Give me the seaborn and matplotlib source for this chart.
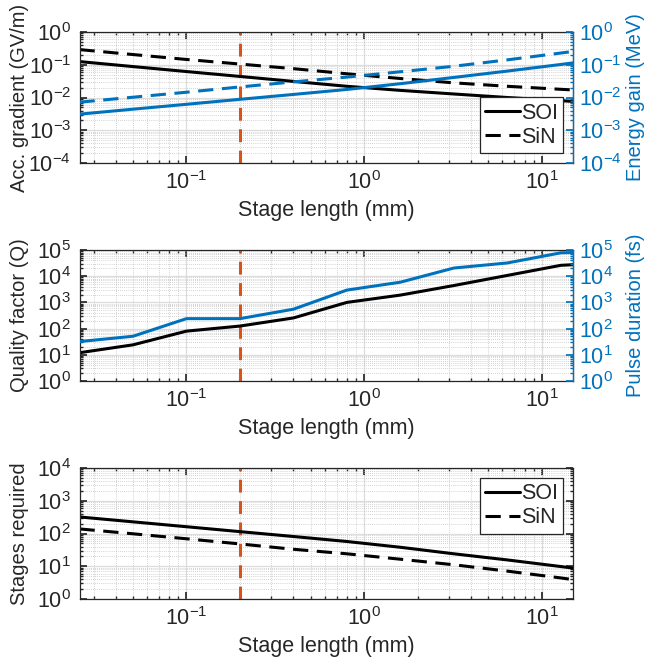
import numpy as np
import matplotlib
matplotlib.use("Agg")
import matplotlib.pyplot as plt
from matplotlib.lines import Line2D
from matplotlib.ticker import LogLocator, NullFormatter
import seaborn as sns

# stage length (mm)
length = [0.025, 0.05, 0.1, 0.2, 0.4, 0.8, 1.6, 3.2, 6.4, 12.8, 15]

# top panel: acc. gradient (GV/m) and energy gain (MeV)
grad_soi = [0.125, 0.088, 0.062, 0.044, 0.031, 0.022, 0.0165, 0.0128, 0.0100, 0.0080, 0.0076]
grad_sin = [0.29, 0.205, 0.145, 0.105, 0.076, 0.053, 0.038, 0.028, 0.022, 0.0178, 0.017]
energy_soi = [0.0031, 0.0044, 0.0062, 0.0088, 0.0124, 0.0176, 0.0264, 0.041, 0.064, 0.102, 0.114]
energy_sin = [0.0072, 0.0102, 0.0145, 0.021, 0.030, 0.042, 0.061, 0.090, 0.141, 0.228, 0.255]

# middle panel: quality factor and pulse duration (fs)
q_factor = [12, 24, 80, 125, 255, 1000, 1900, 4400, 10700, 26000, 27500]
pulse_fs = [32, 51, 240, 240, 550, 2950, 5900, 20500, 32000, 78000, 80000]

# bottom panel: stages required
stages_soi = [320, 227, 161, 114, 81, 57, 38, 24, 15.6, 9.8, 8.8]
stages_sin = [138, 98, 69, 48, 33, 24, 16.4, 11.1, 7.1, 4.4, 3.9]

design_length = 0.2

BLUE = "#0072BD"
ORANGE = "#D95319"
DARK = "#262626"
FS = 15.5
FS_Y = 14.5
LW = 2.2

sns.set_theme(style="ticks")
plt.rcParams["font.family"] = ["Liberation Sans", "DejaVu Sans"]
plt.rcParams["mathtext.fontset"] = "custom"
plt.rcParams["mathtext.rm"] = "Liberation Sans"
plt.rcParams["mathtext.it"] = "Liberation Sans:italic"
plt.rcParams["mathtext.bf"] = "Liberation Sans:bold"
plt.rcParams["axes.unicode_minus"] = True

fig = plt.figure(figsize=(6.47, 6.70), dpi=100)
W, H = 647.0, 670.0
left, right = 79.5, 573.0
panels_px = [(32, 163), (250, 381), (468, 599)]
axes = [fig.add_axes([left / W, 1 - b / H, (right - left) / W, (b - t) / H]) for t, b in panels_px]

DASH = (5.0, 2.8)
LEFT_LABEL_X = (29 - left) / (right - left)
RIGHT_LABEL_X = (626 - left) / (right - left)


def draw(ax, y, color, dashed=False):
    sns.lineplot(x=length, y=y, ax=ax, color=color, lw=LW, legend=False)
    ln = ax.lines[-1]
    if dashed:
        ln.set_dashes(DASH)
    return ln


def style_axis(ax, ylim, twin=None):
    ax.set_xscale("log")
    ax.set_yscale("log")
    ax.set_xlim(0.025, 15)
    ax.set_ylim(*ylim)
    ax.yaxis.set_major_locator(LogLocator(base=10, numticks=20))
    ax.yaxis.set_minor_locator(LogLocator(base=10, subs=np.arange(2, 10), numticks=50))
    ax.yaxis.set_minor_formatter(NullFormatter())
    ax.xaxis.set_minor_locator(LogLocator(base=10, subs=np.arange(2, 10), numticks=50))
    ax.xaxis.set_minor_formatter(NullFormatter())
    ax.grid(which="major", color="#dcdcdc", lw=0.9, ls="-")
    ax.grid(which="minor", color="#c4c4c4", lw=0.6, ls=(0, (1, 1.5)))
    ax.set_axisbelow(True)
    ax.tick_params(which="both", direction="in", top=True, right=(twin is None),
                   colors=DARK, labelsize=FS, pad=6)
    ax.tick_params(which="major", length=5)
    ax.tick_params(which="minor", length=2.5)
    for s in ax.spines.values():
        s.set_color(DARK)
        s.set_linewidth(0.9)
    ax.set_xlabel("Stage length (mm)", fontsize=FS, color=DARK, labelpad=4)


def style_twin(ax2, ylim):
    ax2.set_yscale("log")
    ax2.set_ylim(*ylim)
    ax2.yaxis.set_major_locator(LogLocator(base=10, numticks=20))
    ax2.yaxis.set_minor_locator(LogLocator(base=10, subs=np.arange(2, 10), numticks=50))
    ax2.yaxis.set_minor_formatter(NullFormatter())
    ax2.tick_params(which="both", direction="in", colors=BLUE, labelsize=FS, pad=4)
    ax2.tick_params(which="major", length=5)
    ax2.tick_params(which="minor", length=2.5)
    for name, s in ax2.spines.items():
        s.set_visible(name == "right")
    ax2.spines["right"].set_color(BLUE)
    ax2.spines["right"].set_linewidth(0.9)
    ax2.grid(False)


def add_legend(ax, loc):
    handles = [Line2D([], [], color="black", lw=LW),
               Line2D([], [], color="black", lw=LW, dashes=DASH)]
    leg = ax.legend(handles, ["SOI", "SiN"], loc=loc, fontsize=FS, frameon=True,
                    fancybox=False, edgecolor=DARK, handlelength=1.6, handletextpad=0.05,
                    borderpad=0.25, labelspacing=0.15, borderaxespad=0.45, framealpha=1)
    leg.get_frame().set_linewidth(0.9)
    return leg


# --- top panel ---
ax = axes[0]
style_axis(ax, (1e-4, 1), twin=True)
ax.axvline(design_length, color=ORANGE, lw=LW, dashes=(4.2, 2.8))
draw(ax, grad_soi, "black")
draw(ax, grad_sin, "black", dashed=True)
ax.set_ylabel("Acc. gradient (GV/m)", fontsize=FS_Y, color=DARK)
ax.yaxis.set_label_coords(LEFT_LABEL_X, 0.5)
ax2 = ax.twinx()
style_twin(ax2, (1e-4, 1))
sns.lineplot(x=length, y=energy_soi, ax=ax2, color=BLUE, lw=LW, legend=False)
sns.lineplot(x=length, y=energy_sin, ax=ax2, color=BLUE, lw=LW, legend=False)
ax2.lines[-1].set_dashes(DASH)
ax2.set_xlim(0.025, 15)
ax2.set_ylabel("Energy gain (MeV)", fontsize=FS_Y, color=BLUE)
ax2.yaxis.set_label_coords(RIGHT_LABEL_X, 0.5)
add_legend(ax2, "lower right")

# --- middle panel ---
ax = axes[1]
style_axis(ax, (1, 1e5), twin=True)
ax.axvline(design_length, color=ORANGE, lw=LW, dashes=(4.2, 2.8))
draw(ax, q_factor, "black")
ax.set_ylabel("Quality factor (Q)", fontsize=FS_Y, color=DARK)
ax.yaxis.set_label_coords(LEFT_LABEL_X, 0.5)
ax2 = ax.twinx()
style_twin(ax2, (1, 1e5))
sns.lineplot(x=length, y=pulse_fs, ax=ax2, color=BLUE, lw=LW, legend=False)
ax2.set_xlim(0.025, 15)
ax2.set_ylabel("Pulse duration (fs)", fontsize=FS_Y, color=BLUE)
ax2.yaxis.set_label_coords(RIGHT_LABEL_X, 0.5)

# --- bottom panel ---
ax = axes[2]
style_axis(ax, (1, 1e4))
ax.axvline(design_length, color=ORANGE, lw=LW, dashes=(4.2, 2.8))
draw(ax, stages_soi, "black")
draw(ax, stages_sin, "black", dashed=True)
ax.set_ylabel("Stages required", fontsize=FS_Y, color=DARK)
ax.yaxis.set_label_coords(LEFT_LABEL_X, 0.5)
add_legend(ax, "upper right")

fig.savefig("out.png", dpi=100)
